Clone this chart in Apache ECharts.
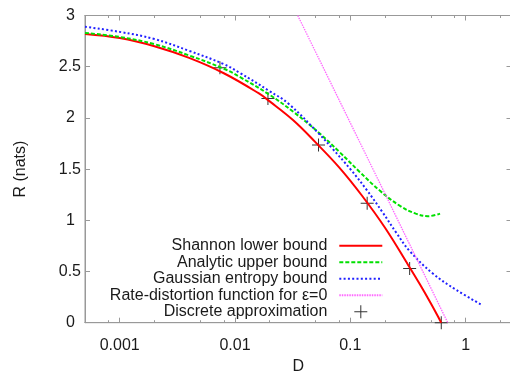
<!DOCTYPE html>
<html><head><meta charset="utf-8">
<script src="https://cdn.jsdelivr.net/npm/echarts@6/dist/echarts.min.js"></script>
<style>html,body{margin:0;padding:0;background:#fff}#c{width:510px;height:372px}</style>
</head><body><div id="c"></div>
<script>
const xMajorTicks = [0.001, 0.01, 0.1, 1];
const xTickLabels = ['0.001', '0.01', '0.1', '1'];
const xMinorTicks = [0.0008, 0.002, 0.005, 0.008, 0.02, 0.05, 0.08, 0.2, 0.5, 0.8, 2];
const yTickLabels = ['0', '0.5', '1', '1.5', '2', '2.5', '3'];

const seriesNames = ['Shannon lower bound', 'Analytic upper bound', 'Gaussian entropy bound', 'Rate-distortion function for ε=0', 'Discrete approximation'];

const shannonD = [0.0005, 0.001, 0.002, 0.004, 0.008, 0.016, 0.02, 0.032, 0.05, 0.08, 0.125, 0.2, 0.32, 0.4, 0.5, 0.615];
const shannonR = [2.82, 2.78, 2.70, 2.586, 2.436, 2.241, 2.161, 1.977, 1.761, 1.517, 1.247, 0.927, 0.557, 0.377, 0.187, 0.0];

const analyticD = [0.0005, 0.001, 0.002, 0.004, 0.008, 0.011, 0.02, 0.032, 0.054, 0.08, 0.12, 0.18, 0.27, 0.37, 0.47, 0.6];
const analyticR = [2.83, 2.79, 2.72, 2.61, 2.48, 2.40, 2.225, 2.06, 1.85, 1.67, 1.475, 1.29, 1.14, 1.065, 1.04, 1.065];

const gaussD = [0.0005, 0.001, 0.002, 0.004, 0.008, 0.011, 0.02, 0.029, 0.054, 0.07, 0.1, 0.138, 0.19, 0.25, 0.327, 0.52, 0.83, 1.35];
const gaussR = [2.89, 2.84, 2.77, 2.655, 2.525, 2.44, 2.26, 2.14, 1.84, 1.70, 1.50, 1.30, 1.08, 0.88, 0.70, 0.48, 0.32, 0.18];

const rdD = [0.035, 0.192, 0.70];
const rdR = [3.0, 1.30, 0.0];

const discreteD = [0.0074, 0.0193, 0.053, 0.14, 0.327, 0.615];
const discreteR = [2.49, 2.19, 1.735, 1.166, 0.53, 0.0];

const FONT = "'Liberation Sans', Arial, Helvetica, sans-serif";
const TXT = '#1a1a1a';
const AX = '#999';
const pairs = (xs, ys) => xs.map((x, i) => [x, ys[i]]);

function xAxisDef(position, ticks, len, labels) {
  return {
    type: 'log', logBase: 10, min: 0.0005, max: 2.5, position: position,
    axisLine: { show: true, lineStyle: { color: AX, width: 1 } },
    axisTick: { show: true, inside: true, length: len, customValues: ticks, lineStyle: { color: AX } },
    axisLabel: labels ? {
      show: true, customValues: xMajorTicks, margin: 15, fontSize: 16, fontFamily: FONT, color: TXT,
      formatter: v => {
        const i = xMajorTicks.findIndex(t => Math.abs(Math.log10(t) - Math.log10(v)) < 1e-6);
        return i >= 0 ? xTickLabels[i] : '';
      }
    } : { show: false },
    splitLine: { show: false },
    name: labels ? 'D' : '', nameLocation: 'middle', nameGap: 34.5,
    nameTextStyle: { fontSize: 16, fontFamily: FONT, color: TXT }
  };
}

const lineLegendItem = name => ({ name: name, itemStyle: { opacity: 0 } });

const option = {
  backgroundColor: '#fff',
  animation: false,
  grid: { left: 85, top: 15.5, width: 426.5, height: 307.2, containLabel: false, outerBoundsMode: 'none',
          show: true, borderColor: AX, borderWidth: 1, backgroundColor: 'transparent' },
  xAxis: [
    xAxisDef('bottom', xMajorTicks, 5, true),
    xAxisDef('bottom', xMinorTicks, 2.5, false),
    xAxisDef('top', xMajorTicks, 5, false),
    xAxisDef('top', xMinorTicks, 2.5, false)
  ],
  yAxis: [{
    type: 'value', min: 0, max: 3, interval: 0.5, position: 'left',
    axisLine: { show: true, lineStyle: { color: AX } },
    axisTick: { show: true, inside: true, length: 5, lineStyle: { color: AX } },
    axisLabel: {
      margin: 4, fontSize: 16, fontFamily: FONT, color: TXT,
      formatter: (v) => {
        const s = yTickLabels[Math.round(v / 0.5)];
        return s.indexOf('.') < 0 ? '{i|' + s + '}' : s;
      },
      rich: { i: { padding: [0, 6, 0, 0], fontSize: 16, fontFamily: FONT, color: TXT } }
    },
    splitLine: { show: false },
    name: 'R (nats)', nameLocation: 'middle', nameGap: 56, nameRotate: 90,
    nameTextStyle: { fontSize: 16, fontFamily: FONT, color: TXT }
  }, {
    type: 'value', min: 0, max: 3, interval: 0.5, position: 'right',
    axisLine: { show: true, lineStyle: { color: AX } },
    axisTick: { show: true, inside: true, length: 5, lineStyle: { color: AX } },
    axisLabel: { show: false }, splitLine: { show: false }
  }],
  legend: {
    orient: 'vertical', right: 126.7, top: 237.5, padding: 0, itemGap: 0, align: 'right',
    itemWidth: 43, itemHeight: 13, selectedMode: false,
    textStyle: { fontSize: 16, lineHeight: 16.5, fontFamily: FONT, color: TXT, padding: [0, 7, 0, 0] },
    data: [lineLegendItem(seriesNames[0]), lineLegendItem(seriesNames[1]), lineLegendItem(seriesNames[2]),
           lineLegendItem(seriesNames[3]), seriesNames[4]]
  },
  series: [
    { name: seriesNames[0], type: 'line', symbol: 'none', smooth: 0.4, data: pairs(shannonD, shannonR),
      lineStyle: { color: '#ff0000', width: 2 }, itemStyle: { color: '#ff0000' } },
    { name: seriesNames[1], type: 'line', symbol: 'none', smooth: 0.4, data: pairs(analyticD, analyticR),
      lineStyle: { color: '#00e000', width: 2, type: [4, 2] }, itemStyle: { color: '#00e000' } },
    { name: seriesNames[2], type: 'line', symbol: 'none', smooth: 0.4, data: pairs(gaussD, gaussR),
      lineStyle: { color: '#2020ff', width: 2, type: [2, 2.3] }, itemStyle: { color: '#2020ff' } },
    { name: seriesNames[3], type: 'line', symbol: 'none', data: pairs(rdD, rdR),
      lineStyle: { color: '#ff66ff', width: 1.3, type: [1.5, 1] }, itemStyle: { color: '#ff66ff' } },
    { name: seriesNames[4], type: 'scatter', clip: false, data: pairs(discreteD, discreteR),
      symbol: 'path://M0,6H13V7H0Z M6,0H7V13H6Z', symbolSize: 13, symbolKeepAspect: true,
      itemStyle: { color: '#333', opacity: 1 } }
  ]
};
const chart = echarts.init(document.getElementById('c'), null, { renderer: 'canvas' });
chart.setOption(option);
</script></body></html>
